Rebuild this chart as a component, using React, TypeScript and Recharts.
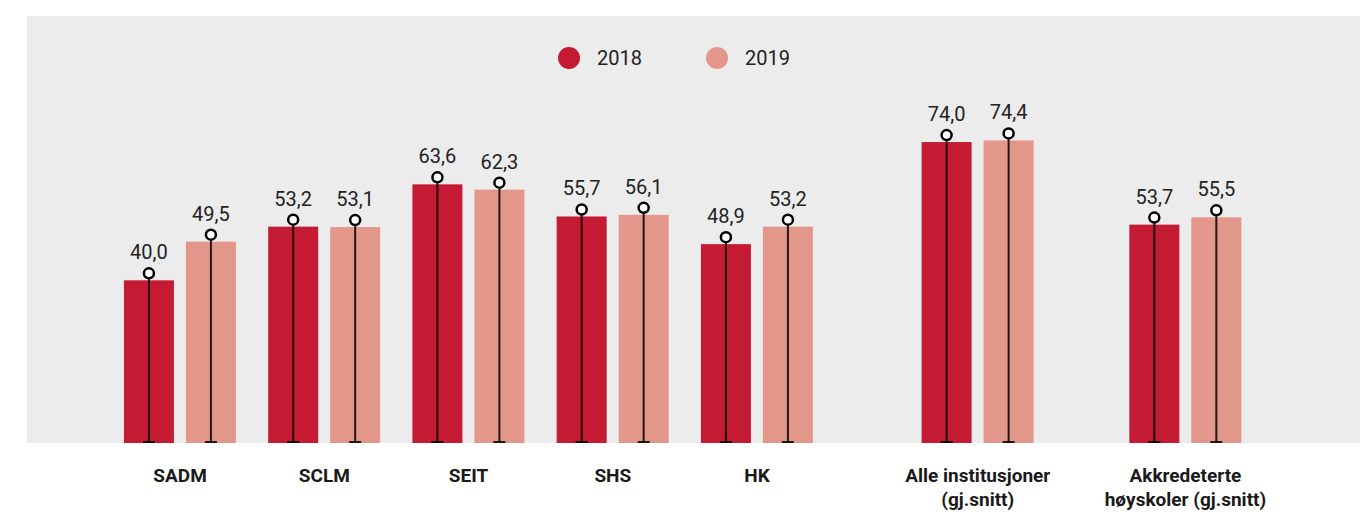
import { BarChart, Bar, XAxis, YAxis, Legend } from 'recharts'

const categories = [
  'SADM',
  'SCLM',
  'SEIT',
  'SHS',
  'HK',
  'Alle institusjoner\n(gj.snitt)',
  'Akkredeterte\nhøyskoler (gj.snitt)',
]
const values2018 = [40.0, 53.2, 63.6, 55.7, 48.9, 74.0, 53.7]
const values2019 = [49.5, 53.1, 62.3, 56.1, 53.2, 74.4, 55.5]
const seriesNames = ['2018', '2019']

const RED = '#C41A33'
const PINK = '#E3978B'
const FONT = 'Roboto, "Liberation Sans", sans-serif'

// the two summary groups sit a bit further apart from the rest
const firstSummary = 5
const summaryGaps = [0.53, 0.44]

const data = categories.map((name, i) => {
  let extra = 0
  for (let k = 0; k <= i - firstSummary; k++) extra += summaryGaps[k]
  return { name, pos: i + extra, y2018: values2018[i], y2019: values2019[i] }
})
const tickPositions = data.map(d => d.pos)

const fmt = (v: number) => v.toFixed(1).replace('.', ',')

function BarMark(props: any) {
  const { x, y, width, height, fill, value } = props
  const v = Array.isArray(value) ? value[1] : value
  const cx = x + width / 2
  const base = y + height
  const cy = y - 7
  return (
    <g>
      <rect x={x} y={y} width={width} height={height} fill={fill} />
      <line x1={cx} x2={cx} y1={base} y2={cy + 5} stroke="rgba(0,0,0,0.85)" strokeWidth={2} />
      <line x1={cx - 6} x2={cx + 6} y1={base - 1} y2={base - 1} stroke="rgba(0,0,0,0.85)" strokeWidth={2} />
      <circle cx={cx} cy={cy} r={5} fill="#fff" stroke="#000" strokeWidth={2.5} />
      <text x={cx} y={cy - 14} textAnchor="middle" fontSize={20} fontFamily={FONT} fill="#222">
        {fmt(v)}
      </text>
    </g>
  )
}

function CategoryTick(props: any) {
  const { x, y, payload } = props
  const d = data.find(e => e.pos === payload.value)
  const lines = d ? d.name.split('\n') : []
  return (
    <text x={x} y={y} textAnchor="middle" fontSize={19} fontWeight={700} fontFamily={FONT} fill="#1a1a1a">
      {lines.map((l, i) => (
        <tspan key={i} x={x} dy={i === 0 ? 31 : 24}>
          {l}
        </tspan>
      ))}
    </text>
  )
}

function LegendContent() {
  const colors = [RED, PINK]
  return (
    <div style={{ display: 'flex', alignItems: 'center', fontFamily: FONT, fontSize: 20, color: '#222' }}>
      {seriesNames.map((s, i) => (
        <div key={s} style={{ display: 'flex', alignItems: 'center', marginRight: 64 }}>
          <span style={{ width: 22, height: 22, borderRadius: 11, background: colors[i], display: 'inline-block', marginRight: 17 }} />
          <span>{s}</span>
        </div>
      ))}
    </div>
  )
}

export default function App() {
  return (
    <div style={{ position: 'relative', width: 1369, height: 512 }}>
      <style>{'body{margin:0}'}</style>
      <div style={{ position: 'absolute', left: 27, top: 16, width: 1333, height: 427, background: '#ECECEC' }} />
      <div style={{ position: 'absolute', left: 0, top: 0 }}>
        <BarChart
          width={1369}
          height={512}
          data={data}
          margin={{ top: 16, right: 9, bottom: 0, left: 27 }}
          barSize={50}
          barGap={12}
        >
          <XAxis
            dataKey="pos"
            type="number"
            domain={[-1.061, 8.18]}
            ticks={tickPositions}
            allowDataOverflow
            height={69}
            axisLine={false}
            tickLine={false}
            tick={<CategoryTick />}
            interval={0}
          />
          <YAxis hide domain={[0, 105]} />
          <Legend
            verticalAlign="middle"
            align="center"
            layout="horizontal"
            wrapperStyle={{ top: 46, left: 558, width: 'auto' }}
            content={<LegendContent />}
          />
          <Bar dataKey="y2018" name="2018" fill={RED} isAnimationActive={false} shape={<BarMark />} />
          <Bar dataKey="y2019" name="2019" fill={PINK} isAnimationActive={false} shape={<BarMark />} />
        </BarChart>
      </div>
    </div>
  )
}
